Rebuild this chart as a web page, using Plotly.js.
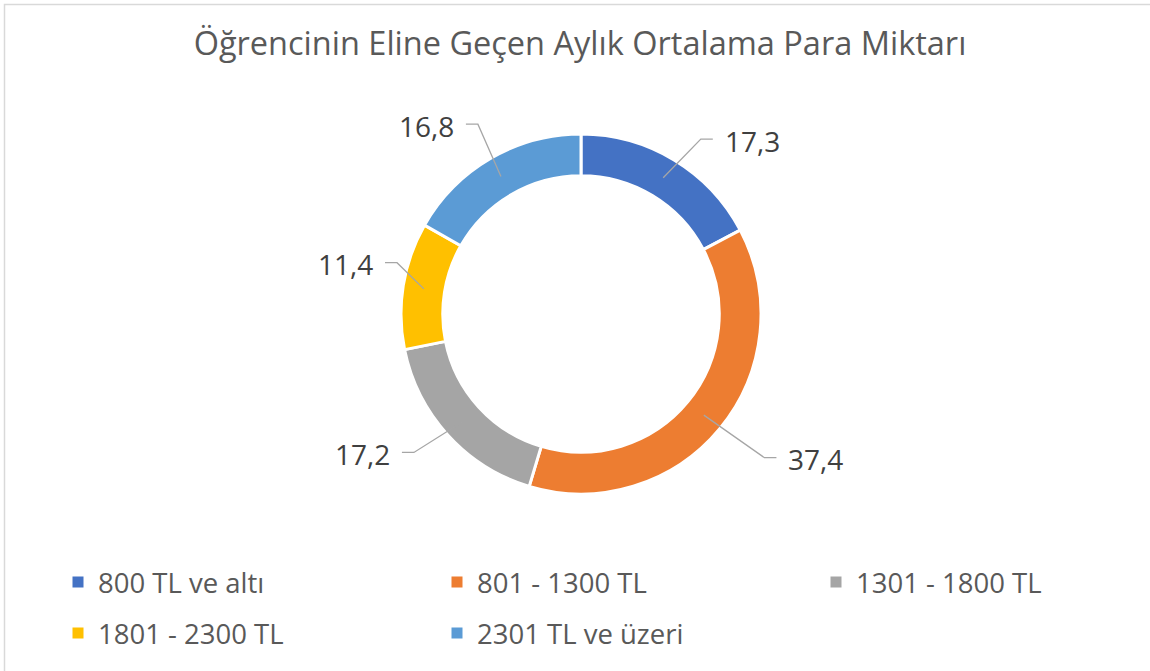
<!DOCTYPE html>
<html><head><meta charset="utf-8">
<script src="https://cdn.plot.ly/plotly-3.0.1.min.js"></script>
<style>html,body{margin:0;padding:0;background:#fff}#chart{width:1150px;height:671px}</style>
</head><body><div id="chart"></div>
<script>
// ---- data ----
const categories = ['800 TL ve altı', '801 - 1300 TL', '1301 - 1800 TL', '1801 - 2300 TL', '2301 TL ve üzeri'];
const values = [17.3, 37.4, 17.2, 11.4, 16.8];
const colors = ['#4472C4', '#ED7D31', '#A5A5A5', '#FFC000', '#5B9BD5'];
const titleText = 'Öğrencinin Eline Geçen Aylık Ortalama Para Miktarı';

// ---- layout / style ----
const W = 1150, H = 671;
const cx = 581, cy = 314, R = 180, hole = 0.768;
const elbowR = [212, 233, 217, 191, 216];     // label placement (Excel-like manual positions)
const elbowDA = [3.3, -1.4, 2.7, 6.5, 1.7];
const stubLen = 12, textGap = 10;
const font = 'Open Sans, Lato, sans-serif';

const px = x => x / W, py = y => 1 - y / H;
const polar = (a, r) => [cx + r * Math.sin(a * Math.PI / 180), cy - r * Math.cos(a * Math.PI / 180)];

const total = values.reduce((s, v) => s + v, 0);
let cum = 0;
const shapes = [], annotations = [];
const midR = R * (1 + hole) / 2;
values.forEach((v, i) => {
  const mid = (cum + v / 2) / total * 360;
  cum += v;
  const p0 = polar(mid, midR);
  const p1 = polar(mid + elbowDA[i], elbowR[i]);
  const side = (mid + elbowDA[i]) % 360 < 180 ? 1 : -1;
  const p2 = [p1[0] + side * stubLen, p1[1]];
  shapes.push({type: 'path', xref: 'paper', yref: 'paper',
    path: `M${px(p0[0])},${py(p0[1])} L${px(p1[0])},${py(p1[1])} L${px(p2[0])},${py(p2[1])}`,
    line: {color: '#A6A6A6', width: 1.3}});
  annotations.push({xref: 'paper', yref: 'paper', showarrow: false,
    x: px(p2[0] + side * textGap), y: py(p1[1] + 1.5),
    xanchor: side > 0 ? 'left' : 'right', yanchor: 'middle',
    text: String(v).replace('.', ','),
    font: {family: font, size: 28, color: '#404040'}});
});
// chart border
shapes.push({type: 'rect', xref: 'paper', yref: 'paper', x0: px(4.5), x1: 1.05, y0: -0.05, y1: py(4.5),
  line: {color: '#D9D9D9', width: 1.5}, layer: 'below'});

const traces = [{
  type: 'pie', labels: categories, values: values, sort: false, direction: 'clockwise', rotation: 0,
  hole: hole, textinfo: 'none', showlegend: false, hoverinfo: 'label+value',
  marker: {colors: colors, line: {color: '#FFFFFF', width: 3}},
  domain: {x: [px(cx - R), px(cx + R)], y: [py(cy + R), py(cy - R)]}
}];
const perRow = 3;
categories.forEach((c, i) => {
  const lastInRow = (i % perRow === perRow - 1) || i === categories.length - 1;
  const t = {type: 'scatter', mode: 'markers', x: [null], y: [null], name: c,
    legend: i < perRow ? 'legend' : 'legend2',
    marker: {symbol: 'square', size: 11, color: colors[i]}, hoverinfo: 'skip'};
  if (lastInRow) t.legendwidth = 220;
  traces.push(t);
});

const legendBase = {orientation: 'h', xanchor: 'left', yanchor: 'middle', x: px(58),
  entrywidth: 334, entrywidthmode: 'pixels', bgcolor: 'rgba(0,0,0,0)',
  font: {family: font, size: 27.5, color: '#595959'}};

const layout = {
  width: W, height: H, margin: {l: 0, r: 0, t: 0, b: 0},
  paper_bgcolor: '#FFFFFF', plot_bgcolor: '#FFFFFF',
  title: {text: titleText, x: px(580), xanchor: 'center', y: py(44), yanchor: 'middle', yref: 'container',
    font: {family: font, size: 32.5, color: '#595959'}},
  xaxis: {visible: false}, yaxis: {visible: false},
  legend: Object.assign({}, legendBase, {y: py(582)}),
  legend2: Object.assign({}, legendBase, {y: py(633)}),
  shapes: shapes, annotations: annotations
};
Plotly.newPlot('chart', traces, layout, {displayModeBar: false});
</script></body></html>
